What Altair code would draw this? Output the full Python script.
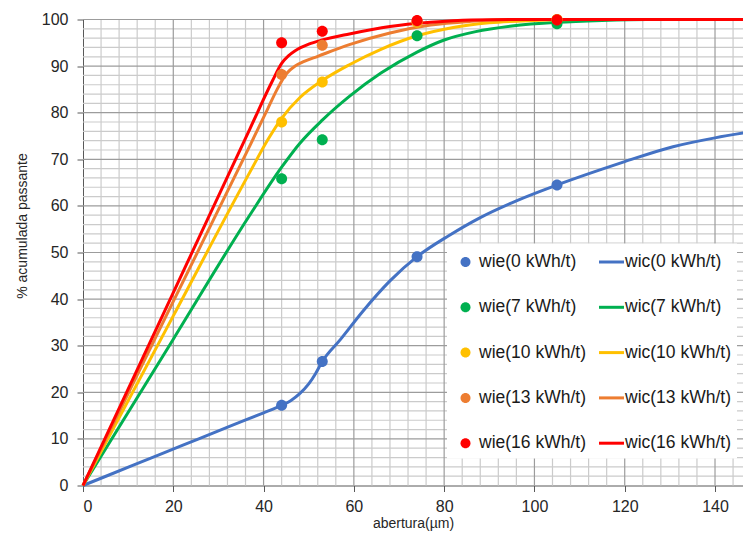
import altair as alt
import pandas as pd

# ---------------- data ----------------
sieve = [44, 53, 74, 105]

wie_names = ["wie(0 kWh/t)", "wie(7 kWh/t)", "wie(10 kWh/t)", "wie(13 kWh/t)", "wie(16 kWh/t)"]
wic_names = ["wic(0 kWh/t)", "wic(7 kWh/t)", "wic(10 kWh/t)", "wic(13 kWh/t)", "wic(16 kWh/t)"]
series_colors = ["#4472C4", "#00B050", "#FFC000", "#ED7D31", "#FF0000"]

wie_0 = [17.2, 26.6, 49.1, 64.5]
wie_7 = [65.8, 74.2, 96.5, 99.1]
wie_10 = [78.0, 86.6, 99.4, 100.0]
wie_13 = [88.2, 94.5, 99.6, 100.0]
wie_16 = [95.0, 97.5, 99.8, 99.9]

wic_0_x = [0, 11, 22, 33, 40, 44, 46, 48, 50, 51.5, 53, 57, 62, 68, 74, 81, 88, 96, 105, 115, 120, 130.7, 140, 148]
wic_0_y = [0, 4.3, 8.6, 12.9, 15.6, 17.2, 18.2, 19.7, 21.8, 24.0, 26.6, 31.3, 37.4, 43.9, 49.1, 53.6, 57.5, 61.1, 64.5, 67.9, 69.5, 72.7, 74.6, 75.9]

wic_7_x = [0, 20, 37, 44, 48, 53, 59, 66, 74, 80, 87, 95, 105, 115, 125, 148]
wic_7_y = [0, 31.4, 58.1, 68.3, 73.4, 78.4, 83.5, 88.5, 93.0, 95.6, 97.4, 98.6, 99.4, 99.8, 100, 100]

wic_10_x = [0, 20, 37, 41, 44, 48, 53, 59, 66, 74, 82, 90, 100, 110, 148]
wic_10_y = [0, 36.4, 67.3, 74.3, 78.8, 83.2, 86.9, 90.3, 93.6, 96.5, 98.3, 99.3, 99.8, 100, 100]

wic_13_x = [0, 20, 37, 41, 43, 45, 47, 49, 52, 59, 68, 77, 86, 96, 148]
wic_13_y = [0, 39.5, 73.0, 81.0, 85.0, 88.3, 90.0, 91.0, 92.1, 94.6, 97.1, 98.8, 99.6, 100, 100]

wic_16_x = [0, 20, 37, 42, 44, 45.5, 47, 50, 53, 59, 68, 77, 86, 95, 148]
wic_16_y = [0, 41.4, 76.6, 86.9, 90.6, 92.2, 93.3, 94.7, 95.6, 96.9, 98.5, 99.4, 99.9, 100, 100]

x_ticks = [0, 20, 40, 60, 80, 100, 120, 140]
y_ticks = [0, 10, 20, 30, 40, 50, 60, 70, 80, 90, 100]
x_minor = [v for v in range(4, 146, 4) if v % 20 != 0]
y_minor = [v for v in range(2, 100, 2) if v % 10 != 0]

# ---------------- tables ----------------
wie_vals = [wie_0, wie_7, wie_10, wie_13, wie_16]
wic_xs = [wic_0_x, wic_7_x, wic_10_x, wic_13_x, wic_16_x]
wic_ys = [wic_0_y, wic_7_y, wic_10_y, wic_13_y, wic_16_y]

pts = pd.DataFrame(
    [{"series": wie_names[i], "x": sieve[j], "y": wie_vals[i][j], "k": i}
     for i in range(5) for j in range(4)]
)
lines = pd.DataFrame(
    [{"series": wic_names[i], "x": wic_xs[i][j], "y": wic_ys[i][j], "k": i}
     for i in range(5) for j in range(len(wic_xs[i]))]
)

# legend is laid out column by column: first column wie, second column wic
legend_domain = wie_names + wic_names
legend_colors = series_colors + series_colors

circle_path = "M -0.4 0 A 0.4 0.4 0 1 1 0.4 0 A 0.4 0.4 0 1 1 -0.4 0 Z"
bar_path = "M -1 -0.12 L 1 -0.12 L 1 0.12 L -1 0.12 Z"
legend_shapes = [circle_path] * 5 + [bar_path] * 5

FONT = "Liberation Sans"
xscale = alt.Scale(domain=[0, 146.2], nice=False, zero=True)
yscale = alt.Scale(domain=[0, 100], nice=False)
cscale = alt.Scale(domain=legend_domain, range=legend_colors)
sscale = alt.Scale(domain=legend_domain, range=legend_shapes)
stroke_scale = alt.Scale(domain=wic_names, range=series_colors)

xaxis = alt.Axis(values=x_ticks, grid=False, tickSize=6, labelPadding=7,
                 labelFontSize=16, labelFont=FONT, labelColor="#262626",
                 title="abertura(µm)", titleFont=FONT, titleFontSize=14,
                 titleFontWeight="normal", titleColor="#262626", titlePadding=2,
                 domainColor="#595959", tickColor="#595959")
yaxis = alt.Axis(values=y_ticks, grid=False, tickSize=6, labelPadding=9,
                 labelFontSize=16, labelFont=FONT, labelColor="#262626",
                 title="% acumulada passante", titleFont=FONT, titleFontSize=14,
                 titleFontWeight="normal", titleColor="#262626", titlePadding=12,
                 titleY=206,
                 domainColor="#595959", tickColor="#595959")

MINOR = "#cbcbcb"
MAJOR = "#9c9c9c"
gx_minor = alt.Chart(pd.DataFrame({"v": x_minor})).mark_rule(color=MINOR, strokeWidth=1.2).encode(
    x=alt.X("v:Q", scale=xscale, axis=xaxis))
gy_minor = alt.Chart(pd.DataFrame({"v": y_minor})).mark_rule(color=MINOR, strokeWidth=1.2).encode(
    y=alt.Y("v:Q", scale=yscale, axis=yaxis))
gx_major = alt.Chart(pd.DataFrame({"v": x_ticks[1:]})).mark_rule(color=MAJOR, strokeWidth=1.2).encode(
    x=alt.X("v:Q", scale=xscale, axis=xaxis))
gy_major = alt.Chart(pd.DataFrame({"v": y_ticks[1:]})).mark_rule(color=MAJOR, strokeWidth=1.2).encode(
    y=alt.Y("v:Q", scale=yscale, axis=yaxis))

line_layer = alt.Chart(lines).mark_line(interpolate="monotone", strokeWidth=3).encode(
    x=alt.X("x:Q", scale=xscale, axis=xaxis),
    y=alt.Y("y:Q", scale=yscale, axis=yaxis),
    stroke=alt.Stroke("series:N", scale=stroke_scale, legend=None),
    detail="k:N",
)

leg = alt.Legend(title=None, orient="none", legendX=364, legendY=224, columns=2,
                 columnPadding=13, rowPadding=24.3, padding=6, fillColor="white",
                 symbolSize=625, symbolStrokeWidth=0, labelOffset=1,
                 labelFont=FONT, labelFontSize=17.5, labelColor="#1a1a1a",
                 labelLimit=200)

point_layer = alt.Chart(pts).mark_point(filled=True, opacity=1, size=756).encode(
    x=alt.X("x:Q", scale=xscale, axis=xaxis),
    y=alt.Y("y:Q", scale=yscale, axis=yaxis),
    color=alt.Color("series:N", scale=cscale, legend=leg),
    shape=alt.Shape("series:N", scale=sscale, legend=leg),
    order="k:Q",
)

chart = alt.layer(gx_minor, gy_minor, gx_major, gy_major, line_layer, point_layer).properties(
    width=660, height=466,
    autosize=alt.AutoSizeParams(type="none"),
    padding={"left": 75, "top": 11.5, "right": 0, "bottom": 46.5},
).configure_view(stroke=None)

chart.save("out.html", embed_options={"renderer": "svg", "actions": False})
